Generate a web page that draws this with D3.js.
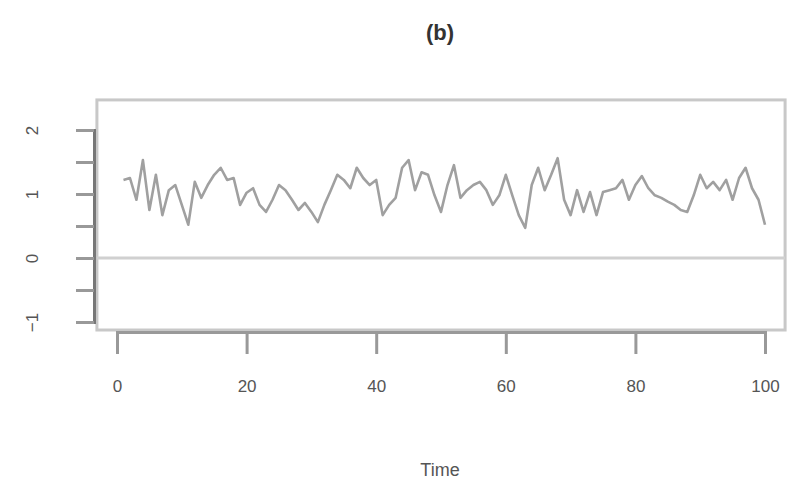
<!DOCTYPE html>
<html><head><meta charset="utf-8">
<script src="https://cdn.jsdelivr.net/npm/d3@7"></script>
<style>body{margin:0;background:#fff}svg{display:block}</style>
</head><body>
<svg id="c" width="789" height="489"></svg>
<script>
const title = "(b)";
const xLabel = "Time";
const xTicks = [0, 20, 40, 60, 80, 100];
const yTicks = [-1, -0.5, 0, 0.5, 1, 1.5, 2];
const yLabelTicks = [-1, 0, 1, 2];
const times = d3.range(1, 101);
const values = [1.22,1.25,0.91,1.53,0.75,1.30,0.67,1.06,1.14,0.83,
0.52,1.19,0.94,1.14,1.30,1.41,1.22,1.25,0.83,1.02,
1.09,0.83,0.72,0.91,1.14,1.06,0.91,0.75,0.86,0.72,
0.56,0.83,1.06,1.30,1.22,1.09,1.41,1.25,1.14,1.22,
0.67,0.83,0.94,1.41,1.53,1.06,1.34,1.30,0.98,0.72,
1.14,1.45,0.94,1.06,1.14,1.19,1.06,0.83,0.98,1.30,
0.98,0.67,0.47,1.14,1.41,1.06,1.30,1.56,0.91,0.67,
1.06,0.72,1.03,0.67,1.03,1.06,1.09,1.22,0.91,1.14,
1.28,1.09,0.98,0.94,0.88,0.83,0.75,0.72,0.98,1.30,
1.09,1.19,1.06,1.22,0.91,1.25,1.41,1.09,0.91,0.52];
const refLine = 0;

const svg = d3.select("#c");
const x = d3.scaleLinear().domain([0, 100]).range([117, 765]);
const y = d3.scaleLinear().domain([-1, 2]).range([322, 130]);
const xDom = [-3.1, 103.1], yDom = [-1.125, 2.47];

// plot box
svg.append("rect")
  .attr("x", x(xDom[0])).attr("y", y(yDom[1]))
  .attr("width", x(xDom[1]) - x(xDom[0])).attr("height", y(yDom[0]) - y(yDom[1]))
  .attr("fill", "none").attr("stroke", "#c8c8c8").attr("stroke-width", 3);

// zero line
svg.append("line")
  .attr("x1", x(xDom[0])).attr("x2", x(xDom[1]))
  .attr("y1", y(refLine)).attr("y2", y(refLine))
  .attr("stroke", "#d0d0d0").attr("stroke-width", 3);

// series
svg.append("path").datum(times.map((t, i) => [t, values[i]]))
  .attr("fill", "none").attr("stroke", "#a0a0a0").attr("stroke-width", 2.6)
  .attr("stroke-linejoin", "round")
  .attr("d", d3.line().x(d => x(d[0])).y(d => y(d[1])));

// x axis
const gx = svg.append("g").attr("transform", "translate(0,332)")
  .call(d3.axisBottom(x).tickValues(xTicks).tickSize(22).tickPadding(26).tickFormat(d3.format("d")));
gx.select(".domain").attr("stroke", "#999").attr("stroke-width", 3);
gx.selectAll(".tick line").attr("stroke", "#999").attr("stroke-width", 3);
gx.selectAll("text").attr("font-family", "Liberation Sans, Arial, sans-serif")
  .attr("font-size", 17).attr("fill", "#555");

// y axis
const gy = svg.append("g").attr("transform", "translate(94,0)")
  .call(d3.axisLeft(y).tickValues(yTicks).tickSize(18).tickPadding(44)
    .tickFormat(d => yLabelTicks.includes(d) ? d3.format("d")(d) : ""));
gy.select(".domain").attr("stroke", "#777").attr("stroke-width", 3);
gy.selectAll(".tick line").attr("stroke", "#999").attr("stroke-width", 3);
gy.selectAll("text").attr("font-family", "Liberation Sans, Arial, sans-serif")
  .attr("font-size", 17).attr("fill", "#555")
  .attr("text-anchor", "middle").attr("dy", null)
  .attr("transform", function(){ const yy = +d3.select(this.parentNode).attr("transform").match(/,([-\d.]+)/)[1]; return null; })
  .each(function(){
    const t = d3.select(this);
    const xx = +t.attr("x");
    t.attr("x", 0).attr("y", 0).attr("transform", `translate(${xx + 6},0) rotate(-90)`);
  });

// titles
svg.append("text").attr("x", 440).attr("y", 40).attr("text-anchor", "middle")
  .attr("font-family", "Liberation Sans, Arial, sans-serif").attr("font-weight", "bold")
  .attr("font-size", 22).attr("fill", "#333").text(title);
svg.append("text").attr("x", 440).attr("y", 476).attr("text-anchor", "middle")
  .attr("font-family", "Liberation Sans, Arial, sans-serif")
  .attr("font-size", 18).attr("fill", "#555").text(xLabel);
</script>
</body></html>
